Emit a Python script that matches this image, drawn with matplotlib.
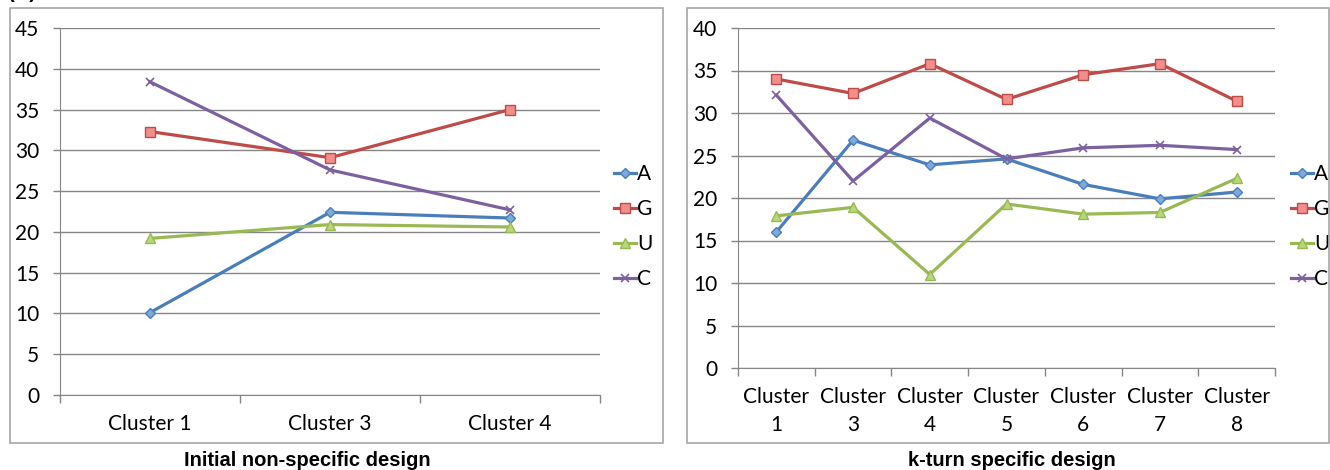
import matplotlib.pyplot as plt
from matplotlib.patches import Rectangle

# nucleotide percentages per cluster
left_clusters = ["Cluster 1", "Cluster 3", "Cluster 4"]
left_A = [10.1, 22.4, 21.7]
left_G = [32.3, 29.1, 35.0]
left_U = [19.2, 20.9, 20.6]
left_C = [38.4, 27.6, 22.7]

right_clusters = ["Cluster\n1", "Cluster\n3", "Cluster\n4", "Cluster\n5",
                  "Cluster\n6", "Cluster\n7", "Cluster\n8"]
right_A = [16.0, 26.8, 23.9, 24.6, 21.6, 19.9, 20.7]
right_G = [34.0, 32.3, 35.8, 31.6, 34.5, 35.8, 31.4]
right_U = [17.9, 18.9, 11.0, 19.3, 18.1, 18.3, 22.3]
right_C = [32.1, 22.0, 29.4, 24.6, 25.9, 26.2, 25.7]

styles = {
    "A": dict(color="#4A7EBB", marker="D", mfc="#7FA8DC", mec="#4A7EBB", ms=5.5),
    "G": dict(color="#BE4B48", marker="s", mfc="#F28E8C", mec="#BE4B48", ms=6.5),
    "U": dict(color="#98B954", marker="^", mfc="#B8D77A", mec="#98B954", ms=6.5),
    "C": dict(color="#7D60A0", marker="x", mfc="#7D60A0", mec="#7D60A0", ms=6, mew=1.2),
}

FS = 15
plt.rcParams["font.family"] = ["Lato", "DejaVu Sans"]
fig = plt.figure(figsize=(13.3, 4.7), dpi=100)
W, H = 1330, 470


def box(x0, y0, x1, y1):
    return [x0 / W, 1 - y1 / H, (x1 - x0) / W, (y1 - y0) / H]


def draw_panel(ax, cats, series, ymax, legend_anchor, xpad):
    n = len(cats)
    xs = [i + 0.5 for i in range(n)]
    for name, vals in series.items():
        ax.plot(xs, vals, lw=2.3, label=name, **styles[name])
    ax.set_xlim(0, n)
    ax.set_ylim(0, ymax)
    ax.set_yticks(range(0, ymax + 1, 5))
    ax.set_xticks(range(n + 1))
    ax.set_xticklabels([])
    ax.set_xticks(xs, minor=True)
    ax.set_xticklabels(cats, minor=True)
    ax.tick_params(axis="x", which="major", length=6, color="#868686", width=1)
    ax.tick_params(axis="x", which="minor", length=0, pad=xpad, labelsize=FS)
    ax.tick_params(axis="y", length=5, color="#868686", width=1, labelsize=FS, pad=10)
    ax.grid(axis="y", color="#868686", lw=1)
    ax.set_axisbelow(True)
    for s in ("top", "right"):
        ax.spines[s].set_visible(False)
    for s in ("left", "bottom"):
        ax.spines[s].set_color("#868686")
    ax.legend(loc="center left", bbox_to_anchor=legend_anchor, frameon=False,
              fontsize=FS, handlelength=1.05, handletextpad=0.05,
              labelspacing=0.72, borderaxespad=0)


ax1 = fig.add_axes(box(60, 28, 600, 395))
draw_panel(ax1, left_clusters,
           {"A": left_A, "G": left_G, "U": left_U, "C": left_C}, 45,
           (1.011, 0.458), 14)

ax2 = fig.add_axes(box(738, 28, 1275, 368))
draw_panel(ax2, right_clusters,
           {"A": right_A, "G": right_G, "U": right_U, "C": right_C}, 40,
           (1.015, 0.415), 14)
for t in ax2.get_xticklabels(minor=True):
    t.set_linespacing(1.45)

# chart frames
for x0, x1 in ((10, 663), (687, 1329)):
    fig.patches.append(Rectangle((x0 / W, 1 - 443 / H), (x1 - x0) / W, (443 - 8) / H,
                                 transform=fig.transFigure, fill=False,
                                 edgecolor="#A6A6A6", lw=1.2))

fig.text(307 / W, 1 - 460 / H, "Initial non-specific design", ha="center", va="center",
         fontsize=14.5, fontweight="bold", family="Liberation Sans")
fig.text(1012 / W, 1 - 460 / H, "k-turn specific design", ha="center", va="center",
         fontsize=14.5, fontweight="bold", family="Liberation Sans")
fig.text(8 / W, 1.015, "(A)", ha="left", va="center",
         fontsize=14.5, fontweight="bold", family="Liberation Sans")

fig.savefig("out.png", dpi=100)
